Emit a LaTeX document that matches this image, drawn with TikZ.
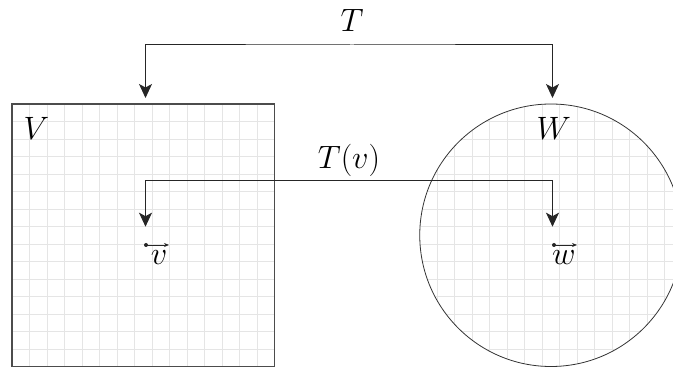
\documentclass[tikz,border=0pt]{standalone}
\usepackage{fix-cm}
\usetikzlibrary{arrows.meta}
\newcommand{\biglbl}[1]{\scalebox{1.3}{\Huge$#1$}}
\begin{document}
\begin{tikzpicture}[x=1pt,y=1pt,
  lbl/.style={inner sep=0pt},
  gridline/.style={draw=black!10, line width=0.7pt},
  conn/.style={draw=black!85, line width=1pt, {Stealth[length=14pt,width=13pt,inset=3.5pt]}-{Stealth[length=14pt,width=13pt,inset=3.5pt]}},
  vecarrow/.style={draw=black!85, line width=0.8pt, -{Stealth[length=5pt,width=4pt]}},
  vecdot/.style={circle, fill=black!85, inner sep=0pt, minimum size=4pt}
]
\useasboundingbox (0,0) rectangle (673,369);
% square space V
\begin{scope}[shift={(12,2.5)}]
  \draw[gridline] (0,0) grid[step=17.5pt] (262.5,262.5);
\end{scope}
\node[draw=black!70, line width=1.2pt, minimum size=262.5pt, inner sep=0pt] (Vbox) at (143.25,133.75) {};
% circle space W
\begin{scope}
  \clip (551,133.75) circle (131.25);
  \begin{scope}[shift={(419.75,2.5)}]
    \draw[gridline] (0,0) grid[step=17.5pt] (262.5,262.5);
  \end{scope}
\end{scope}
\node[draw=black!80, line width=0.8pt, circle, minimum size=262.5pt, inner sep=0pt] (Wcirc) at (551,133.75) {};
% labels
\node[lbl] (Vlab) at (36.5,241) {\biglbl{V}};
\node[lbl] (Wlab) at (553.7,241) {\biglbl{W}};
\node[lbl] (Tlab) at (352,349) {\biglbl{T}};
\node[lbl] (Tvlab) at (349,209) {\biglbl{T(v)}};
% vectors
\node[vecdot] (vdot) at (146,124) {};
\coordinate (vend) at (169,124);
\draw[vecarrow] (vdot.center) -- (vend);
\node[lbl] (vlab) at (159,111) {\biglbl{v}};
\node[vecdot] (wdot) at (554,124) {};
\coordinate (wend) at (577,124);
\draw[vecarrow] (wdot.center) -- (wend);
\node[lbl] (wlab) at (564,111) {\biglbl{w}};
% connectors
\coordinate (TtipL) at (145.5,271);
\coordinate (TtipR) at (552.5,271);
\coordinate (Tbar) at (352,324);
\draw[conn] (TtipL) |- (Tbar) -| (TtipR);
\coordinate (vtipL) at (145.5,142.3);
\coordinate (vtipR) at (552.5,142.3);
\coordinate (vbar) at (349,188.3);
\draw[conn] (vtipL) |- (vbar) -| (vtipR);
\end{tikzpicture}
\end{document}
